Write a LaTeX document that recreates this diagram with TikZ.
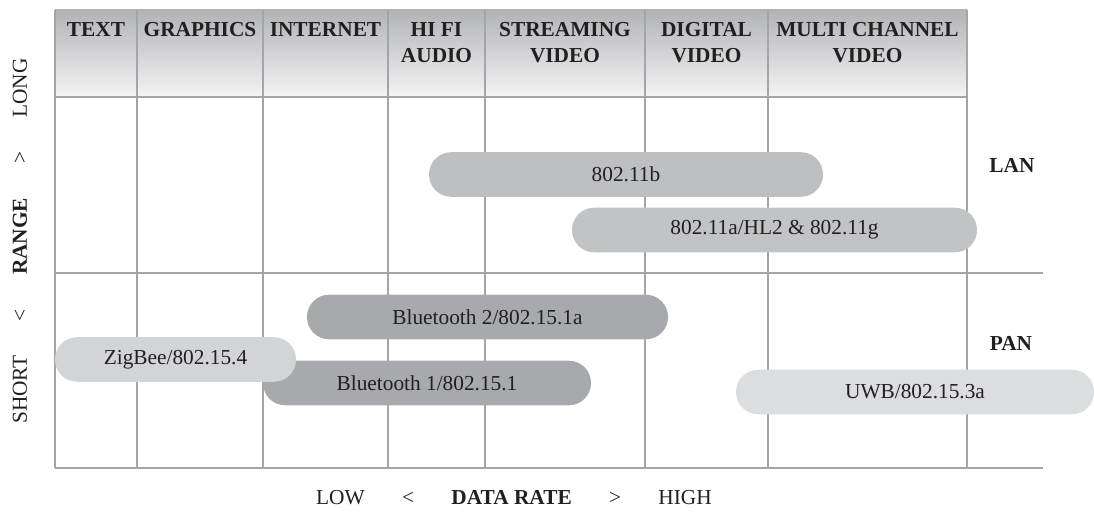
\documentclass[tikz,border=0pt]{standalone}
\usepackage{fontspec}
\setmainfont{Liberation Serif}

\definecolor{ink}{HTML}{231F20}
\definecolor{gridgray}{HTML}{A4A5A8}
\definecolor{hdtop}{HTML}{B2B3B5}
\definecolor{hdbot}{HTML}{F4F4F5}
\definecolor{wlanA}{HTML}{BEBFC1}
\definecolor{wlanB}{HTML}{C2C3C5}
\definecolor{btgray}{HTML}{A8A9AC}
\definecolor{ziggray}{HTML}{D3D4D6}
\definecolor{uwbgray}{HTML}{DCDDDF}

\tikzset{
  gridline/.style={draw=gridgray, line width=1.4pt},
  colhead/.style={anchor=north, align=center, font=\fontsize{16}{19.5}\selectfont\bfseries, text=ink, inner sep=0pt},
  pill/.style={rounded corners=16.6pt, minimum height=33.4pt, inner sep=0pt, text=ink},
  netlabel/.style={font=\fontsize{16}{19.5}\selectfont\bfseries, text=ink}
}

\begin{document}
\begin{tikzpicture}[x=0.75pt, y=-0.75pt, font=\fontsize{16}{19.5}\selectfont]

\def\gridL{55}
\def\gridR{1043}
\def\headR{967}
\def\headT{10}
\def\headB{97}
\def\rowM{273}
\def\rowB{468}

\def\textX{55}
\def\graphicsX{137}
\def\internetX{263}
\def\hifiX{388}
\def\streamX{485}
\def\digitalX{645}
\def\multiX{768}

\useasboundingbox (0,0) rectangle (1094,513);

\shade[top color=hdtop, bottom color=hdbot] (\gridL,\headT) rectangle (\headR,\headB);

\draw[gridline] (\gridL,\headB) -- (\headR,\headB);
\draw[gridline] (\gridL,\rowM) -- (\gridR,\rowM);
\draw[gridline] (\gridL,\rowB) -- (\gridR,\rowB);
\draw[gridline] (\textX,\headT) -- (\textX,\rowB)
  (\graphicsX,\headT) -- (\graphicsX,\rowB)
  (\internetX,\headT) -- (\internetX,\rowB)
  (\hifiX,\headT) -- (\hifiX,\rowB)
  (\streamX,\headT) -- (\streamX,\rowB)
  (\digitalX,\headT) -- (\digitalX,\rowB)
  (\multiX,\headT) -- (\multiX,\rowB)
  (\headR,\headT) -- (\headR,\rowB);

\node[colhead] (hText) at ({(\textX+\graphicsX)/2}, 22) {TEXT};
\node[colhead] (hGraphics) at ({(\graphicsX+\internetX)/2}, 22) {GRAPHICS};
\node[colhead] (hInternet) at ({(\internetX+\hifiX)/2}, 22) {INTERNET};
\node[colhead] (hHifi) at ({(\hifiX+\streamX)/2}, 22) {HI FI\\AUDIO};
\node[colhead] (hStream) at ({(\streamX+\digitalX)/2}, 22) {STREAMING\\VIDEO};
\node[colhead] (hDigital) at ({(\digitalX+\multiX)/2}, 22) {DIGITAL\\VIDEO};
\node[colhead] (hMulti) at ({(\multiX+\headR)/2}, 22) {MULTI CHANNEL\\VIDEO};

\node[pill, fill=wlanA, minimum width=295.5pt] (wifiB) at (626,174.5) {802.11b};
\node[pill, fill=wlanB, minimum width=303.8pt] (wifiAG) at (774.5,230) {802.11a/HL2 \& 802.11g};
\node[pill, fill=btgray, minimum width=270.8pt] (btTwo) at (487.5,317) {Bluetooth 2/802.15.1a};
\node[pill, fill=btgray, minimum width=246pt] (btOne) at (427,383) {Bluetooth 1/802.15.1};
\node[pill, fill=ziggray, minimum width=180.8pt] (zigbee) at (175.5,359.5) {ZigBee/802.15.4};
\node[pill, fill=uwbgray, minimum width=268.5pt] (uwb) at (915,392) {UWB/802.15.3a};

\node[netlabel] (lan) at (1012,165) {LAN};
\node[netlabel] (pan) at (1011,343) {PAN};

\node[rotate=90, text=ink] (rangeAxis) at (20,241) {SHORT\hspace{1.6em}<\hspace{1.6em}\textbf{RANGE}\hspace{1.6em}>\hspace{1.6em}LONG};
\node[text=ink] (rateAxis) at (514,497.5) {LOW\hspace{1.75em}<\hspace{1.75em}\textbf{DATA RATE}\hspace{1.75em}>\hspace{1.75em}HIGH};

\end{tikzpicture}
\end{document}
